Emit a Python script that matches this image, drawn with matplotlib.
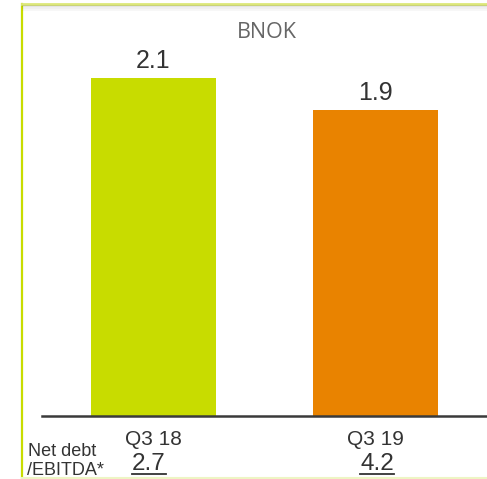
import matplotlib
matplotlib.use("Agg")
import matplotlib.pyplot as plt
from matplotlib.lines import Line2D

categories = ["Q3 18", "Q3 19"]
values = [2.1, 1.9]
net_debt_ebitda = ["2.7", "4.2"]
bar_colors = ["#c8dc00", "#e98300"]
title = "BNOK"
side_label = "Net debt\n/EBITDA*"

W, H = 487, 479
fig = plt.figure(figsize=(W / 100, H / 100), dpi=100)
fig.patch.set_facecolor("white")

def fx(px):
    return px / W

def fy(py):
    return 1 - py / H

# axes: x from 42 to 487 px, baseline at 416 px, top at 5 px
ax = fig.add_axes([fx(42), fy(416), fx(487 - 42), (416 - 5) / H])
ax.set_xlim(-0.5, 1.5)
ax.set_ylim(0, 411 / 161)
x = list(range(len(categories)))
ax.bar(x, values, width=0.56, color=bar_colors, zorder=2)
for s in ["top", "right", "left"]:
    ax.spines[s].set_visible(False)
ax.spines["bottom"].set_color("#3a3a3a")
ax.spines["bottom"].set_linewidth(1.8)
ax.set_yticks([])
ax.set_xticks([])
ax.patch.set_alpha(0)

lab_font = "Liberation Sans"
for xi, v in zip(x, values):
    ax.annotate(f"{v:.1f}", (xi, v), xytext=(0, 10), textcoords="offset pixels",
                ha="center", va="baseline", fontsize=18, family=lab_font, color="#333333")

for xi, c in zip(x, categories):
    ax.annotate(c, (xi, 0), xytext=(0, -29), textcoords="offset pixels",
                ha="center", va="baseline", fontsize=15, family=lab_font, color="#333333")

ratio_texts = []
offs = [-4.5, 1.5]
for xi, r, o in zip(x, net_debt_ebitda, offs):
    t = ax.annotate(r, (xi, 0), xytext=(o, -54), textcoords="offset pixels",
                    ha="center", va="baseline", fontsize=17.5, family=lab_font, color="#333333")
    ratio_texts.append(t)

fig.text(fx(28), fy(456), side_label, ha="left", va="baseline", fontsize=13,
         family=lab_font, color="#333333", linespacing=1.05)
# the multiline baseline anchors the last line; adjust
fig.texts[-1].remove()
fig.text(fx(28), fy(456), "Net debt", ha="left", va="baseline", fontsize=13,
         family=lab_font, color="#333333")
fig.text(fx(27), fy(475), "/EBITDA*", ha="left", va="baseline", fontsize=13,
         family=lab_font, color="#333333")

fig.text(fx(267), fy(38), title, ha="center", va="baseline", fontsize=15.5,
         family="Open Sans", color="#666666")

# frame lines
fig.add_artist(Line2D([fx(22), fx(22)], [fy(4), fy(479)], color="#c8dc00", lw=1.6))
fig.add_artist(Line2D([fx(22), fx(487)], [fy(4), fy(4)], color="#dde87a", lw=2.0))
for i, a in enumerate([0.10, 0.06, 0.03]):
    fig.add_artist(Line2D([fx(23), fx(487)], [fy(6 + 2 * i), fy(6 + 2 * i)],
                          color="black", alpha=a, lw=1.5))
fig.add_artist(Line2D([fx(22), fx(487)], [fy(477.5), fy(477.5)], color="#eef5c4", lw=1.5))

# underlines for ratio values
fig.canvas.draw()
r = fig.canvas.get_renderer()
for t in ratio_texts:
    bb = t.get_window_extent(r)
    fig.add_artist(Line2D([bb.x0 / W, bb.x1 / W], [fy(473.5), fy(473.5)],
                          color="#333333", lw=1.3))

fig.savefig("out.png", dpi=100)
